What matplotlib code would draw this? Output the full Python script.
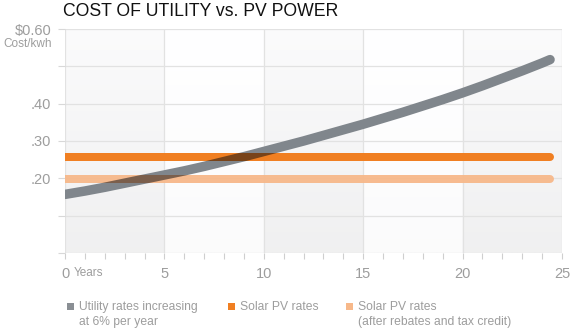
import numpy as np
import matplotlib
matplotlib.use("Agg")
import matplotlib.pyplot as plt
from matplotlib.patches import Rectangle

plt.rcParams['font.family'] = ['Liberation Sans', 'DejaVu Sans']

# ---- data ----
title = "COST OF UTILITY vs. PV POWER"
years = [0, 1, 2, 3, 4, 5, 6, 7, 8, 9, 10, 11, 12, 13, 14, 15, 16, 17, 18, 19,
         20, 21, 22, 23, 24, 24.4]
utility = [0.157, 0.166, 0.176, 0.187, 0.198, 0.209, 0.220, 0.232, 0.245, 0.258,
           0.272, 0.286, 0.300, 0.315, 0.330, 0.345, 0.361, 0.377, 0.394, 0.411,
           0.429, 0.448, 0.468, 0.488, 0.509, 0.518]
pv_years = [0, 24.4]
solar_pv = [0.258, 0.258]
solar_pv_rebate = [0.197, 0.197]
y_ticks = [0.0, 0.1, 0.2, 0.3, 0.4, 0.5, 0.6]
y_labels = ["", "", ".20", ".30", ".40", "", "$0.60"]
x_ticks = [0, 5, 10, 15, 20, 25]
x_labels = ["0", "5", "10", "15", "20", "25"]
legend_labels = ["Utility rates increasing\nat 6% per year",
                 "Solar PV rates",
                 "Solar PV rates\n(after rebates and tax credit)"]

C_GRAY = "#80868c"
C_OR = "#f07f22"
C_LOR = "#f7b88a"
C_TXT = "#9d9d9d"
C_GRID = "#e2e2e2"

W, H, DPI = 571, 328, 100
fig = plt.figure(figsize=(W / DPI, H / DPI), dpi=DPI)
ax = fig.add_axes([65 / W, (H - 253) / H, 497 / W, 224 / H])
ax.set_xlim(0, 25)
ax.set_ylim(0, 0.6)

# background: alternating column bands with vertical gradient
nx, ny = 500, 200
xs = np.linspace(0, 25, nx, endpoint=False) + 25 / nx / 2
t = np.linspace(0, 1, ny)[:, None]
gray_col = (np.floor(xs / 5) % 2 == 0)[None, :]
top = np.where(gray_col, 251, 255)
bot = np.where(gray_col, 240, 251)
val = (top + (bot - top) * t) / 255.0
img = np.dstack([val, val, val * 1.003]).clip(0, 1)
ax.imshow(img, extent=[0, 25, 0, 0.6], aspect='auto', zorder=0, interpolation='bilinear')

for s in ax.spines.values():
    s.set_visible(False)

ax.set_xticks(x_ticks)
ax.set_xticklabels(x_labels)
ax.set_xticks(np.arange(0, 26, 1), minor=True)
ax.set_yticks(y_ticks)
ax.set_yticklabels(y_labels)
ax.tick_params(axis='x', which='both', length=4, width=0.8, color="#cfcfcf",
               labelcolor=C_TXT, labelsize=10.5, pad=6, direction='out')
ax.tick_params(axis='y', length=5, width=0.8, color="#d8d8d8",
               labelcolor=C_TXT, labelsize=10.5, pad=5)
ax.grid(True, which='major', color=C_GRID, lw=0.9, zorder=1)
ax.set_axisbelow(True)
for g in ax.get_xgridlines() + ax.get_ygridlines():
    g.set_zorder(1)

lw_or = 8 * 72 / DPI
lw_gray = 9.5 * 72 / DPI

ax.plot(years, utility, color=C_GRAY, lw=lw_gray, solid_capstyle='round', zorder=3)
ax.plot(pv_years, solar_pv, color=C_OR, lw=lw_or, solid_capstyle='round', zorder=4)
ax.plot(pv_years, solar_pv_rebate, color=C_LOR, lw=lw_or, solid_capstyle='round', zorder=4,
        alpha=0.95)

# multiply-like overlap: gray curve redrawn in darker tone, clipped to the flat bands
fig.canvas.draw()
ppu = ax.transData.transform((0, 1))[1] - ax.transData.transform((0, 0))[1]
half = (lw_or * DPI / 72) / 2 / ppu
for yv, col in [(solar_pv[0], "#784319"), (solar_pv_rebate[0], "#7b5f4c")]:
    clip = Rectangle((0, yv - half), 25, 2 * half, transform=ax.transData)
    ln, = ax.plot(years, utility, color=col, lw=lw_gray, solid_capstyle='round', zorder=5)
    ln.set_clip_path(clip)

# y axis extra labels
fig.text(52 / W, 1 - 44 / H, "Cost/kwh", ha='right', va='center', fontsize=8.5, color=C_TXT)
fig.text(73.5 / W, 1 - 276.5 / H, "Years", ha='left', va='baseline', fontsize=8.5, color=C_TXT)

# title
fig.text(63 / W, 1 - 11 / H, title, ha='left', va='center', fontsize=12.7, color="#111111")

# legend
leg_x = [67, 228, 346]
leg_cols = ["#8a8f94", C_OR, C_LOR]
for lx, lc, lab in zip(leg_x, leg_cols, legend_labels):
    fig.patches.append(Rectangle((lx / W, 1 - 310 / H), 7 / W, 7 / H, transform=fig.transFigure,
                                 facecolor=lc, edgecolor='none'))
    fig.text((lx + 12) / W, 1 - 301 / H, lab, ha='left', va='top', fontsize=8.7, color=C_TXT,
             linespacing=1.32)

fig.savefig("out.png", dpi=DPI)
